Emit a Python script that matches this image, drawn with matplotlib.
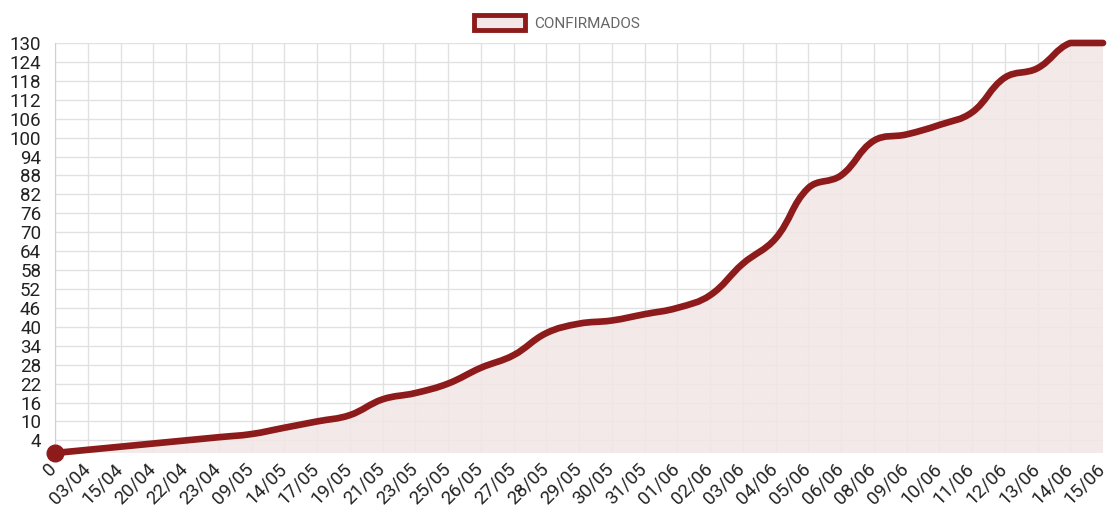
import numpy as np
import matplotlib.pyplot as plt
import matplotlib.transforms as mtransforms
from matplotlib.path import Path
from matplotlib.patches import PathPatch, Patch

plt.rcParams['font.family'] = ['Roboto', 'DejaVu Sans']

# Datos
fechas = ['0', '03/04', '15/04', '20/04', '22/04', '23/04', '09/05', '14/05', '17/05',
          '19/05', '21/05', '23/05', '25/05', '26/05', '27/05', '28/05', '29/05', '30/05',
          '31/05', '01/06', '02/06', '03/06', '04/06', '05/06', '06/06', '08/06', '09/06',
          '10/06', '11/06', '12/06', '13/06', '14/06', '15/06']
confirmados = [0, 1, 2, 3, 4, 5, 6, 8, 10, 12, 17, 19, 22, 27, 31, 38, 41, 42, 44, 46,
               50, 60, 68, 84, 88, 99, 101, 104, 108, 119, 122, 130, 130]
y_ticks = list(range(4, 131, 6))

rojo = '#8e1b1b'
relleno = '#f3e6e6'

fig = plt.figure(figsize=(11.07, 5.08), dpi=100)
ax = fig.add_axes([0.0497, 0.1083, 0.9467, 0.8071])
x = np.arange(len(fechas))
ax.set_xlim(0, len(fechas) - 1)
ax.set_ylim(0, 130)

# curva suavizada como chart.js (tension 0.4), calculada en pixeles
fig.canvas.draw()
pts = ax.transData.transform(np.column_stack([x, confirmados]))
n = len(pts)
cp_prev = pts.copy()
cp_next = pts.copy()
for i in range(n):
    p0 = pts[max(i - 1, 0)]
    p1 = pts[i]
    p2 = pts[min(i + 1, n - 1)]
    d01 = np.hypot(*(p1 - p0))
    d12 = np.hypot(*(p2 - p1))
    tot = d01 + d12
    if tot == 0:
        continue
    fa = 0.4 * d01 / tot
    fb = 0.4 * d12 / tot
    cp_prev[i] = p1 - fa * (p2 - p0)
    cp_next[i] = p1 + fb * (p2 - p0)
inv = ax.transData.inverted()
cp_prev = inv.transform(cp_prev)
cp_next = inv.transform(cp_next)
cp_prev[:, 1] = np.clip(cp_prev[:, 1], 0, 130)
cp_next[:, 1] = np.clip(cp_next[:, 1], 0, 130)

verts = [(x[0], confirmados[0])]
codes = [Path.MOVETO]
for i in range(1, n):
    verts += [tuple(cp_next[i - 1]), tuple(cp_prev[i]), (x[i], confirmados[i])]
    codes += [Path.CURVE4] * 3

area = Path(verts + [(x[-1], 0), (x[0], 0), (x[0], confirmados[0])],
            codes + [Path.LINETO, Path.LINETO, Path.CLOSEPOLY])
ax.add_patch(PathPatch(area, facecolor=relleno, edgecolor='none', zorder=1, alpha=0.85))
ax.add_patch(PathPatch(Path(verts, codes), facecolor='none', edgecolor=rojo,
                       lw=4.8, capstyle='round', joinstyle='round', zorder=3,
                       clip_on=False))
ax.plot(x[0], confirmados[0], 'o', color=rojo, ms=12, zorder=4, clip_on=False)

ax.set_xticks(x)
ax.set_xticklabels(fechas, rotation=45, ha='right', rotation_mode='anchor')
ax.set_yticks(y_ticks)
ax.grid(True, color='#e1e1e1', lw=1, zorder=0)
ax.set_axisbelow(True)
ax.tick_params(length=0, labelsize=13.5, labelcolor='#222222')
ax.tick_params(axis='x', pad=5)
ax.tick_params(axis='y', pad=10)
for s in ['top', 'right', 'bottom']:
    ax.spines[s].set_visible(False)
ax.spines['left'].set_color('#cfcfcf')

# las etiquetas de fecha quedan un poco a la izquierda de su linea
shift = mtransforms.ScaledTranslation(-7 / 100, 0, fig.dpi_scale_trans)
for lab in ax.get_xticklabels():
    lab.set_transform(lab.get_transform() + shift)

handle = Patch(facecolor=relleno, edgecolor=rojo, lw=3.5)
fig.legend([handle], ['CONFIRMADOS'], loc='center', bbox_to_anchor=(0.503, 0.955),
           frameon=False, fontsize=11, labelcolor='#666666',
           handlelength=3.3, handleheight=1.1, handletextpad=0.6)

fig.savefig('out.png', dpi=100)
